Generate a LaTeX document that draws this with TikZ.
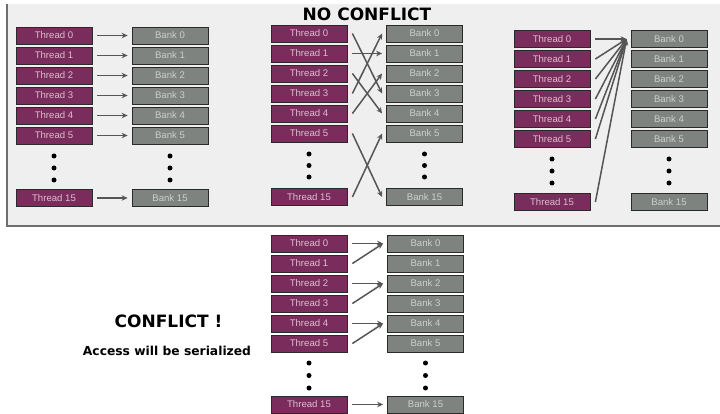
\documentclass[tikz,border=0pt]{standalone}
\usepackage{fontspec}
\setmainfont{DejaVu Sans}
\newfontfamily\cellfont{Liberation Sans}
\usetikzlibrary{arrows.meta}

\definecolor{panelbg}{HTML}{EFEFEF}
\definecolor{panelrule}{HTML}{6E6E6E}
\definecolor{threadfill}{HTML}{7A2C5C}
\definecolor{threadtext}{HTML}{DDBFCF}
\definecolor{bankfill}{HTML}{7E8380}
\definecolor{banktext}{HTML}{CDD0CD}
\definecolor{cellrule}{HTML}{2A2A2A}
\definecolor{arrowgray}{HTML}{555555}

\tikzset{
  cell/.style={draw=cellrule, line width=0.8pt, minimum width=76pt,
    minimum height=17pt, inner sep=0pt,
    font=\cellfont\fontsize{9.6}{10}\selectfont},
  thread/.style={cell, fill=threadfill, text=threadtext},
  bank/.style={cell, fill=bankfill, text=banktext},
  vdot/.style={circle, fill=black, inner sep=0pt, minimum size=5pt},
  link/.style={draw=arrowgray, line width=1.5pt,
    -{Stealth[length=6pt,width=5.5pt]}},
  heading/.style={anchor=base, font=\bfseries\fontsize{17}{20}\selectfont},
  subheading/.style={anchor=base, font=\bfseries\fontsize{12.3}{14}\selectfont},
}

% #1 prefix, #2 thread x, #3 bank x, #4 y of row 0, #5 y of row 15,
% #6 y of first dot, #7 dot spacing
\newcommand\memcolumns[7]{%
  \foreach \i in {0,...,5}{
    \node[thread] (#1t\i) at (#2, #4+20*\i) {Thread \i};
    \node[bank]   (#1b\i) at (#3, #4+20*\i) {Bank \i};
  }
  \node[thread] (#1t15) at (#2, #5) {Thread 15};
  \node[bank]   (#1b15) at (#3, #5) {Bank 15};
  \foreach \k in {0,1,2}{
    \node[vdot] (#1dt\k) at (#2, #6+#7*\k) {};
    \node[vdot] (#1db\k) at (#3, #6+#7*\k) {};
  }
}
% thread node -> bank node
\newcommand\memlink[2]{\draw[link] ([xshift=5pt]#1.east) -- ([xshift=-4pt]#2.west);}

\begin{document}
\begin{tikzpicture}[x=1pt, y=-1pt]
  \useasboundingbox (0,0) rectangle (720,414);

  % shaded panel holding the conflict-free cases
  \fill[panelbg] (7,4) rectangle (720,226);
  \draw[panelrule, line width=2pt] (7,4) -- (7,226) -- (720,226);

  \node[heading] (nctitle) at (367,21) {NO CONFLICT};
  \node[heading] (ctitle) at (168.5,327.5) {CONFLICT !};
  \node[subheading] (cnote) at (167,355) {Access will be serialized};

  % linear addressing
  \memcolumns{A}{54}{170}{35.5}{198}{156}{12}
  \foreach \i in {0,1,2,3,4,5,15}{\memlink{At\i}{Ab\i}}

  % random permutation
  \memcolumns{B}{309}{424.5}{33.5}{197}{154}{11.5}
  \memlink{Bt0}{Bb3}
  \memlink{Bt1}{Bb1}
  \memlink{Bt2}{Bb4}
  \memlink{Bt3}{Bb0}
  \memlink{Bt4}{Bb2}
  \memlink{Bt5}{Bb15}
  \memlink{Bt15}{Bb5}

  % broadcast to a single bank
  \memcolumns{C}{552}{669}{39}{202}{159}{12}
  \foreach \i in {0,1,2,3,4,5,15}{\memlink{Ct\i}{Cb0}}

  % two-way bank conflict
  \memcolumns{D}{309}{425.5}{243.5}{404.5}{363}{12.5}
  \memlink{Dt0}{Db0}
  \memlink{Dt1}{Db0}
  \memlink{Dt2}{Db2}
  \memlink{Dt3}{Db2}
  \memlink{Dt4}{Db4}
  \memlink{Dt5}{Db4}
  \memlink{Dt15}{Db15}
\end{tikzpicture}
\end{document}
